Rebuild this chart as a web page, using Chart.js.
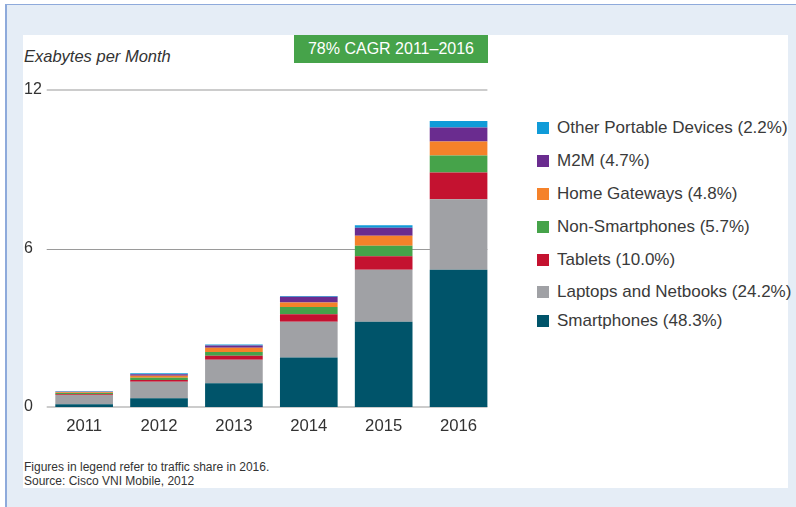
<!DOCTYPE html>
<html>
<head>
<meta charset="utf-8">
<script src="https://cdn.jsdelivr.net/npm/chart.js@4"></script>
<style>
  html, body { margin:0; padding:0; width:796px; height:507px; background:#ffffff; overflow:hidden; font-family:"Liberation Sans", Arial, sans-serif; }
  #frame { position:absolute; left:5px; top:4px; width:791px; height:503px; background:#e5edf6; border-top:1px solid #8eaadb; border-left:2px solid #8eaadb; box-sizing:border-box; }
  #panel { position:absolute; left:23px; top:35px; width:765px; height:453px; background:#ffffff; }
  #cagr { position:absolute; left:294px; top:35px; width:194px; height:28px; background:#46a34a; color:#fff; font-size:16px; line-height:28px; text-align:center; }
  #ylabel { position:absolute; left:24px; top:47px; font-size:16.5px; font-style:italic; color:#333; }
  #foot { position:absolute; left:24px; top:460px; font-size:12px; line-height:14px; color:#333; }
  #legend { position:absolute; left:537px; top:0; }
  .li { position:absolute; left:0; white-space:nowrap; height:20px; }
  .sw { position:absolute; left:0; top:4px; width:12px; height:12px; }
  .lt { position:absolute; left:20px; top:0; font-size:17px; line-height:20px; color:#3a3a3a; }
  canvas { position:absolute; left:0; top:0; }
</style>
</head>
<body>
<div id="frame"></div>
<div id="panel"></div>
<div id="cagr">78% CAGR 2011–2016</div>
<div id="ylabel">Exabytes per Month</div>
<div id="legend"></div>
<div id="foot">Figures in legend refer to traffic share in 2016.<br>Source: Cisco VNI Mobile, 2012</div>
<canvas id="c" width="796" height="507"></canvas>
<script>
// ---- data ----
const years = ['2011', '2012', '2013', '2014', '2015', '2016'];
const smartphones = [0.10, 0.33, 0.90, 1.87, 3.23, 5.20];
const laptops     = [0.35, 0.63, 0.89, 1.36, 1.97, 2.66];
const tablets     = [0.03, 0.06, 0.15, 0.28, 0.51, 1.02];
const nonSmart    = [0.05, 0.09, 0.14, 0.28, 0.39, 0.64];
const homeGw      = [0.03, 0.07, 0.16, 0.17, 0.38, 0.53];
const m2m         = [0.02, 0.06, 0.09, 0.21, 0.31, 0.53];
const otherPort   = [0.02, 0.04, 0.04, 0.03, 0.09, 0.25];
const seriesNames = ['Smartphones', 'Laptops and Netbooks', 'Tablets', 'Non-Smartphones', 'Home Gateways', 'M2M', 'Other Portable Devices'];
const shares2016  = ['48.3%', '24.2%', '10.0%', '5.7%', '4.8%', '4.7%', '2.2%'];
const yTicks      = [0, 6, 12];

const seriesValues = [smartphones, laptops, tablets, nonSmart, homeGw, m2m, otherPort];
const colors = ['#00546a', '#a0a1a5', '#c41230', '#46a34a', '#f5822a', '#6a2c8f', '#109bd8'];

const datasets = seriesValues.map((v, i) => ({
  label: seriesNames[i] + ' (' + shares2016[i] + ')',
  data: v,
  backgroundColor: colors[i],
  borderWidth: 0,
  barPercentage: 0.77,
  categoryPercentage: 1.0
}));

// HTML legend (top of stack first)
const rowCenters = [128, 161, 194, 227, 260, 292, 321];
const legend = document.getElementById('legend');
datasets.slice().reverse().forEach((d, k) => {
  const row = document.createElement('div');
  row.className = 'li';
  row.style.top = (rowCenters[k] - 10) + 'px';
  row.innerHTML = '<div class="sw" style="background:' + d.backgroundColor + '"></div><div class="lt">' + d.label + '</div>';
  legend.appendChild(row);
});

const gridPlugin = {
  id: 'customGrid',
  beforeDatasetsDraw(chart) {
    const ctx = chart.ctx, y = chart.scales.y, area = chart.chartArea;
    const meta = chart.getDatasetMeta(0);
    const last = meta.data[meta.data.length - 1];
    const right = last.x + last.width / 2;
    ctx.save();
    yTicks.forEach(v => {
      const py = y.getPixelForValue(v);
      ctx.beginPath();
      if (v === 6) { ctx.strokeStyle = '#9a9a9a'; ctx.lineWidth = 1; ctx.moveTo(area.left, Math.round(py) + 0.5); ctx.lineTo(right, Math.round(py) + 0.5); }
      else { ctx.strokeStyle = '#cccccc'; ctx.lineWidth = 2; ctx.moveTo(area.left, Math.round(py)); ctx.lineTo(right, Math.round(py)); }
      ctx.stroke();
    });
    ctx.restore();
  }
};

new Chart(document.getElementById('c'), {
  type: 'bar',
  data: { labels: years, datasets: datasets },
  options: {
    responsive: false,
    animation: false,
    events: [],
    layout: { padding: { left: 24, top: 90, right: 300, bottom: 60 } },
    plugins: { legend: { display: false }, tooltip: { enabled: false } },
    scales: {
      x: {
        stacked: true,
        grid: { display: false, drawTicks: false },
        border: { display: false },
        ticks: { color: '#333', padding: 9, font: { family: 'Liberation Sans', size: 16.7 } },
        afterFit: s => { s.height = 40; }
      },
      y: {
        stacked: true,
        min: 0, max: 12,
        afterBuildTicks: s => { s.ticks = yTicks.map(v => ({ value: v })); },
        grid: { display: false, drawTicks: false },
        border: { display: false },
        ticks: { color: '#333', crossAlign: 'far', padding: 0, font: { family: 'Liberation Sans', size: 16 } },
        afterFit: s => { s.width = 22.7; }
      }
    }
  },
  plugins: [gridPlugin]
});
</script>
</body>
</html>
